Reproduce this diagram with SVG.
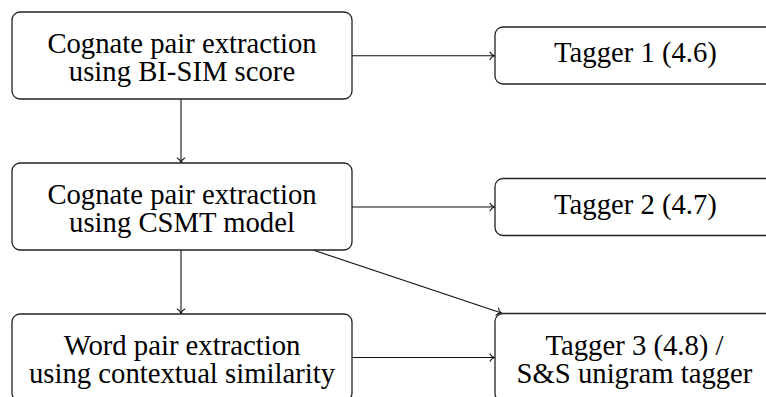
<svg xmlns="http://www.w3.org/2000/svg" width="766" height="397" viewBox="0 0 766 397">
<style>
.box{fill:#fff;stroke:#222;stroke-width:1.3}
.lbl{font-family:"Liberation Serif","Times New Roman",serif;font-size:28.7px;fill:#000;text-anchor:middle}
.conn{fill:none;stroke:#111;stroke-width:1.1}
</style>
<defs>
<marker id="arr" markerUnits="userSpaceOnUse" markerWidth="12" markerHeight="12" viewBox="-6 -6 12 12" refX="0" refY="0" orient="auto">
<path d="M -4.5,-3.8 C -3.5,-1.6 -1.4,-0.4 0,0 C -1.4,0.4 -3.5,1.6 -4.5,3.8" fill="none" stroke="#111" stroke-width="1.1" stroke-linecap="round"/>
</marker>
</defs>
<rect width="766" height="397" fill="#fff"/>
<g id="connectors">
<line class="conn" x1="352" y1="55.7" x2="494.5" y2="55.7" marker-end="url(#arr)"/>
<line class="conn" x1="181" y1="99" x2="181" y2="162.5" marker-end="url(#arr)"/>
<line class="conn" x1="352" y1="207" x2="494.5" y2="207" marker-end="url(#arr)"/>
<line class="conn" x1="181" y1="250" x2="181" y2="313.5" marker-end="url(#arr)"/>
<line class="conn" x1="313" y1="250" x2="501.5" y2="313" marker-end="url(#arr)"/>
<line class="conn" x1="352" y1="357.5" x2="494.5" y2="357.5" marker-end="url(#arr)"/>
</g>
<g id="bisim">
<rect class="box" x="12" y="12" width="340" height="87" rx="8"/>
<text class="lbl" x="182" y="53">Cognate pair extraction</text>
<text class="lbl" x="182" y="81">using BI-SIM score</text>
</g>
<g id="csmt">
<rect class="box" x="12" y="163" width="340" height="87" rx="8"/>
<text class="lbl" x="182" y="204">Cognate pair extraction</text>
<text class="lbl" x="182" y="232">using CSMT model</text>
</g>
<g id="contextual">
<rect class="box" x="12" y="314" width="340" height="87" rx="8"/>
<text class="lbl" x="182" y="355">Word pair extraction</text>
<text class="lbl" x="182" y="383">using contextual similarity</text>
</g>
<g id="tagger1">
<rect class="box" x="495" y="27" width="282" height="57" rx="8"/>
<text class="lbl" x="635.5" y="62.3">Tagger 1 (4.6)</text>
</g>
<g id="tagger2">
<rect class="box" x="495" y="178.5" width="282" height="57" rx="8"/>
<text class="lbl" x="635.5" y="213.8">Tagger 2 (4.7)</text>
</g>
<g id="tagger3">
<rect class="box" x="495" y="313.5" width="282" height="88" rx="8"/>
<text class="lbl" x="634.5" y="355">Tagger 3 (4.8) /</text>
<text class="lbl" x="634.5" y="383">S&amp;S unigram tagger</text>
</g>
</svg>
